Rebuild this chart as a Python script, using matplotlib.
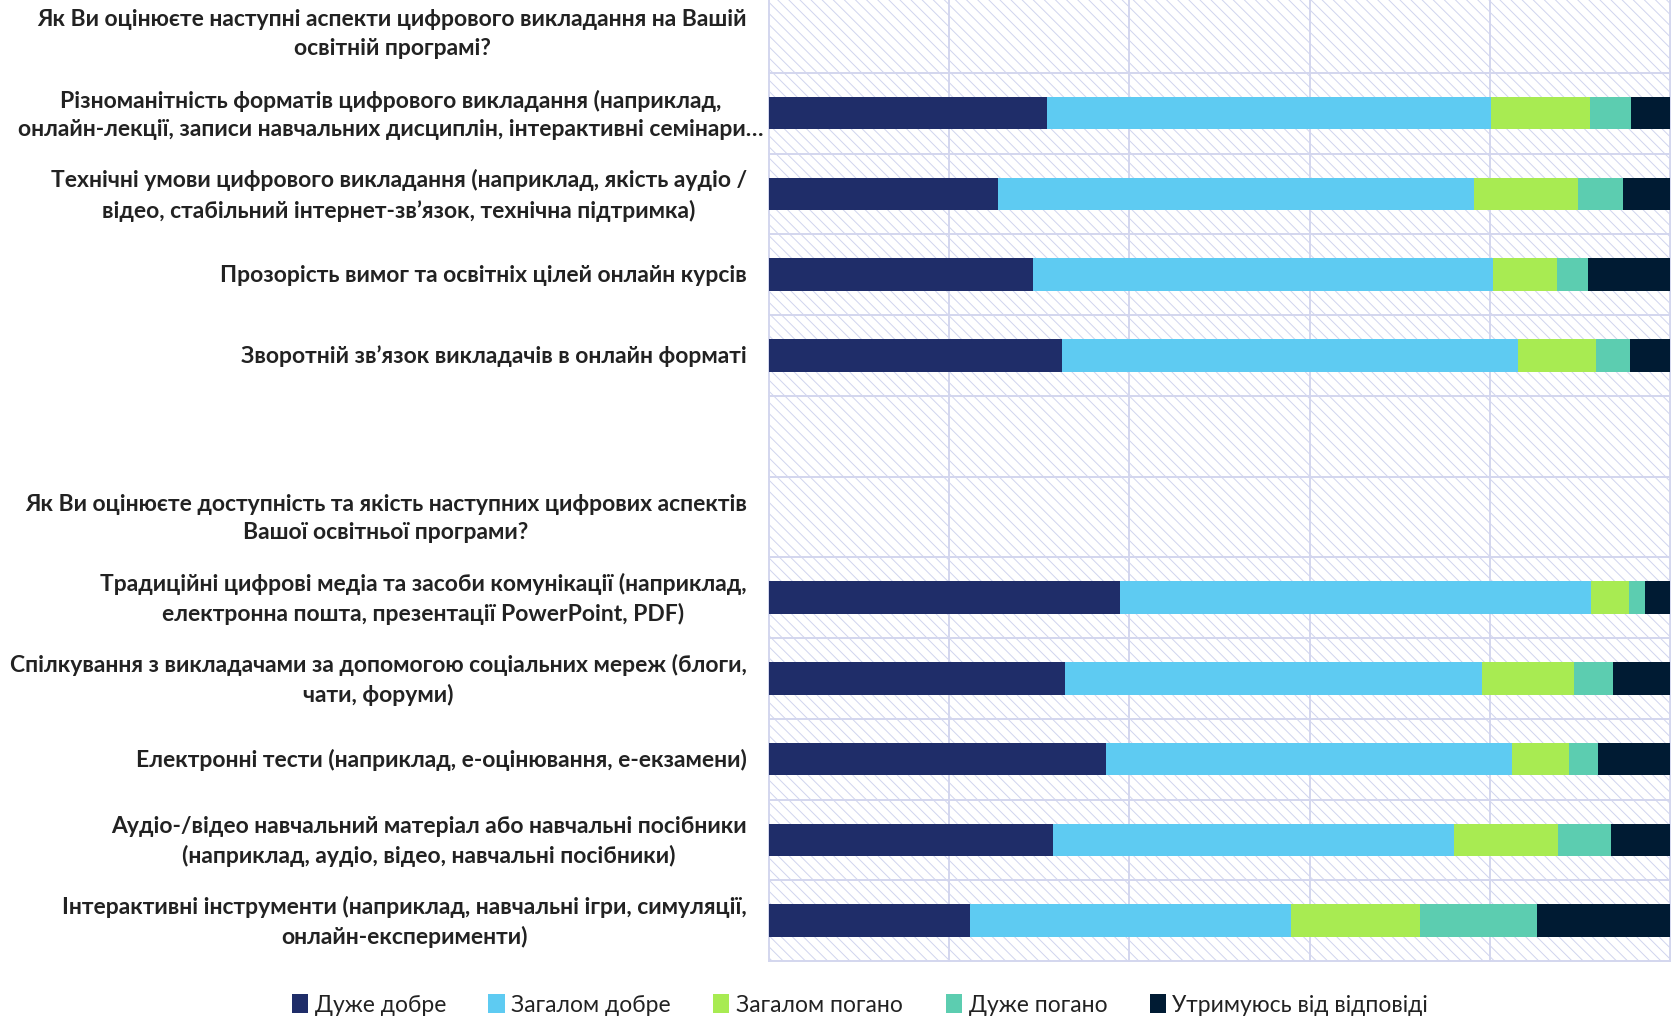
import matplotlib
matplotlib.use("Agg")
import matplotlib.pyplot as plt
import numpy as np
from matplotlib.patches import Rectangle, Patch

plt.rcParams["font.family"] = ["Lato", "DejaVu Sans"]
plt.rcParams["hatch.linewidth"] = 0.7

# rows from top to bottom; headings and the spacer row carry no bars
labels = [
    "Як Ви оцінюєте наступні аспекти цифрового викладання на Вашій\nосвітній програмі?",
    "Різноманітність форматів цифрового викладання (наприклад,\nонлайн-лекції, записи навчальних дисциплін, інтерактивні семінари…",
    "Технічні умови цифрового викладання (наприклад, якість аудіо /\nвідео, стабільний інтернет-зв’язок, технічна підтримка)",
    "Прозорість вимог та освітніх цілей онлайн курсів",
    "Зворотній зв’язок викладачів в онлайн форматі",
    "",
    "Як Ви оцінюєте доступність та якість наступних цифрових аспектів\nВашої освітньої програми?",
    "Традиційні цифрові медіа та засоби комунікації (наприклад,\nелектронна пошта, презентації PowerPoint, PDF)",
    "Спілкування з викладачами за допомогою соціальних мереж (блоги,\nчати, форуми)",
    "Електронні тести (наприклад, е-оцінювання, е-екзамени)",
    "Аудіо-/відео навчальний матеріал або навчальні посібники\n(наприклад, аудіо, відео, навчальні посібники)",
    "Інтерактивні інструменти (наприклад, навчальні ігри, симуляції,\nонлайн-експерименти)",
]

series_names = ["Дуже добре", "Загалом добре", "Загалом погано", "Дуже погано",
                "Утримуюсь від відповіді"]
series_colors = ["#1f2d69", "#5ecbf2", "#a8eb52", "#5ccdb0", "#001b33"]

# percent per row (None = no bar)
very_good = [None, 30.8, 25.4, 29.3, 32.5, None, None, 39.0, 32.8, 37.4, 31.5, 22.3]
good      = [None, 49.3, 52.9, 51.1, 50.6, None, None, 52.2, 46.3, 45.1, 44.5, 35.6]
bad       = [None, 11.0, 11.5,  7.1,  8.7, None, None,  4.3, 10.3,  6.3, 11.6, 14.3]
very_bad  = [None,  4.6,  5.0,  3.4,  3.8, None, None,  1.7,  4.3,  3.2,  5.9, 13.0]
abstain   = [None,  4.3,  5.2,  9.1,  4.4, None, None,  2.8,  6.3,  8.0,  6.5, 14.8]

series = [very_good, good, bad, very_bad, abstain]

W, H = 1671, 1023
fig = plt.figure(figsize=(W / 100, H / 100), dpi=100)
ax = fig.add_axes([769 / W, (H - 961) / H, 901 / W, 969 / H])

grid_color = "#d3d6ee"
ax.add_patch(Rectangle((0, 0), 1, 1, transform=ax.transAxes, facecolor="white",
                       edgecolor="#d0d4ee", linewidth=0, hatch="\\" * 3, zorder=0))

y = np.arange(len(labels))
for k in range(len(labels) + 1):
    ax.axhline(k - 0.5, color=grid_color, linewidth=1.4, zorder=1, clip_on=False)
for xv in range(0, 101, 20):
    ax.axvline(xv, color=grid_color, linewidth=1.4, zorder=1, clip_on=False)

left = np.zeros(len(labels))
for name, vals, col in zip(series_names, series, series_colors):
    v = np.array([np.nan if a is None else a for a in vals], dtype=float)
    mask = ~np.isnan(v)
    ax.barh(y[mask], v[mask], left=left[mask], height=0.4, color=col,
            linewidth=0, zorder=2)
    left[mask] += v[mask]

ax.set_xlim(0, 100)
ax.set_ylim(len(labels) - 0.5, -0.5)
ax.set_xticks([])
ax.set_yticks([])
for s in ax.spines.values():
    s.set_visible(False)

# row labels: right aligned left of the axes, lines centred on each other
for row, txt in zip(y, labels):
    if not txt:
        continue
    dx, dy = -16, -0.7
    if "\n" in txt:
        dy = -1.2
        if txt.endswith("…"):
            dx = -4
    ax.annotate(txt, xy=(0, row), xycoords=("axes fraction", "data"),
                xytext=(dx, dy), textcoords="offset points",
                ha="right", va="center", multialignment="center",
                linespacing=1.45, fontsize=16.5, fontweight="bold",
                color="#222222", annotation_clip=False)

handles = [Patch(facecolor=c, edgecolor="none") for c in series_colors]
fig.legend(handles, series_names, loc="center", ncol=5,
           bbox_to_anchor=(860 / W, (H - 1005) / H), frameon=False,
           fontsize=16.5, handlelength=0.7, handleheight=0.9,
           handletextpad=0.3, columnspacing=1.85, labelcolor="#222222")

fig.savefig("out.png", dpi=100)
